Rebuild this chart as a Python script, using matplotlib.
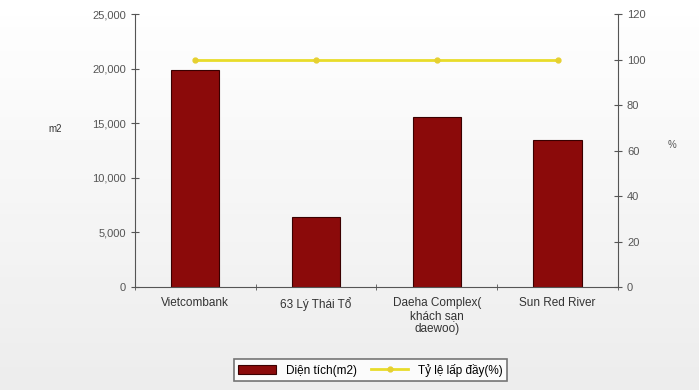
import matplotlib
matplotlib.use("Agg")
import matplotlib.pyplot as plt
import numpy as np

# data
categories = ["Vietcombank", "63 Lý Thái Tổ", "Daeha Complex(\nkhách sạn\ndaewoo)", "Sun Red River"]
area = [19900, 6400, 15600, 13500]
occupancy = [100, 100, 100, 100]

plt.rcParams['font.family'] = ['Liberation Sans', 'DejaVu Sans']

fig = plt.figure(figsize=(6.99, 3.9), dpi=100)
fig.patch.set_facecolor('white')

# faint grey backdrop like the scanned report
bg = fig.add_axes([0, 0, 1, 1], zorder=-10)
grad = np.linspace(1.0, 0.88, 100).reshape(-1, 1)
bg.imshow(grad, cmap='gray', vmin=0, vmax=1, aspect='auto', extent=[0, 1, 0, 1], alpha=0.6)
bg.axis('off')

ax = fig.add_axes([0.193, 0.264, 0.691, 0.700])
ax.patch.set_alpha(0)
x = np.arange(len(categories))
ax.bar(x, area, width=0.4, color='#8b0a0a', edgecolor='#3a0000', linewidth=0.8, label='Diện tích(m2)')
ax.set_xlim(-0.5, len(categories) - 0.5)
ax.set_ylim(0, 25000)
ax.set_yticks(range(0, 25001, 5000))
ax.set_yticklabels([f"{v:,}" if v else "0" for v in range(0, 25001, 5000)])
ax.set_xticks(x)
ax.set_xticklabels(categories, fontsize=8.5, color='#333333', linespacing=1.1)
ax.set_xticks(np.arange(-0.5, len(categories)), minor=True)
ax.tick_params(axis='x', which='major', length=0, pad=7)
ax.tick_params(axis='x', which='minor', length=4, direction='inout', color='#555555')
ax.tick_params(axis='y', labelsize=8, labelcolor='#555555', direction='inout', length=6, color='#555555')
for s in ['top', 'right']:
    ax.spines[s].set_visible(False)
for s in ['left', 'bottom']:
    ax.spines[s].set_color('#555555')
ax.set_ylabel('m2', rotation=0, fontsize=7, color='#333333')
ax.yaxis.set_label_coords(-0.166, 0.56)

ax2 = ax.twinx()
ax2.plot(x, occupancy, color='#e8dc2a', linewidth=2, marker='o', markersize=3.5,
         markerfacecolor='#e6d030', markeredgecolor='#e6d030', label='Tỷ lệ lấp đầy(%)')
ax2.set_ylim(0, 120)
ax2.set_yticks(range(0, 121, 20))
ax2.tick_params(axis='y', labelsize=8, labelcolor='#555555', direction='inout', length=6, color='#555555')
for s in ['top', 'left', 'bottom']:
    ax2.spines[s].set_visible(False)
ax2.spines['right'].set_color('#555555')
ax2.set_ylabel('%', rotation=0, fontsize=7, color='#555555')
ax2.yaxis.set_label_coords(1.112, 0.54)

h1, l1 = ax.get_legend_handles_labels()
h2, l2 = ax2.get_legend_handles_labels()
leg = fig.legend(h1 + h2, l1 + l2, loc='center', bbox_to_anchor=(0.53, 0.051), ncol=2,
                 fontsize=8.5, frameon=True, fancybox=False, edgecolor='#555555',
                 handlelength=3.2, columnspacing=1.2, borderpad=0.4)
leg.get_frame().set_linewidth(1.2)

fig.savefig('out.png', dpi=100)
